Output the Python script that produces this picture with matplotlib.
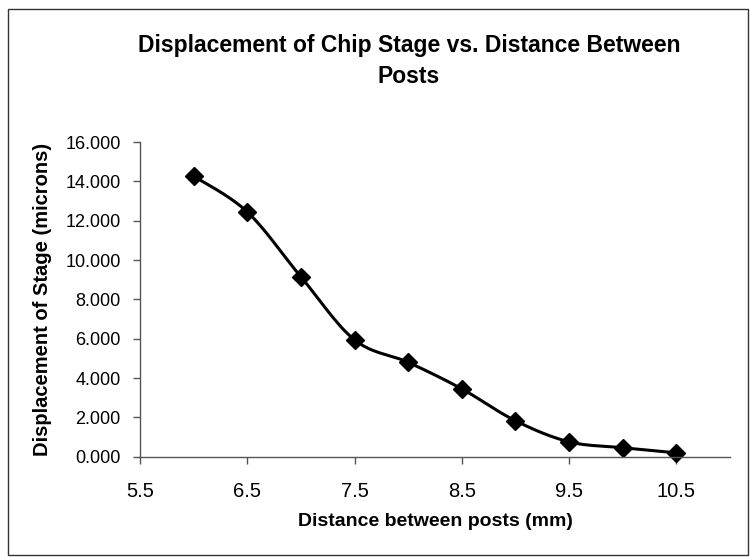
import numpy as np
import matplotlib
matplotlib.use("Agg")
import matplotlib.pyplot as plt
from matplotlib.patches import Rectangle

plt.rcParams.update({
    'font.family': ['Liberation Sans', 'DejaVu Sans'],
    'font.size': 12,
})

# distance between posts (mm) and stage displacement (microns)
distance = [6.0, 6.5, 7.0, 7.5, 8.0, 8.5, 9.0, 9.5, 10.0, 10.5]
displacement = [14.26, 12.44, 9.14, 5.94, 4.80, 3.45, 1.83, 0.76, 0.46, 0.20]

x_ticks = [5.5, 6.5, 7.5, 8.5, 9.5, 10.5]
y_ticks = [0, 2, 4, 6, 8, 10, 12, 14, 16]


def smooth_path(ax, xs, ys, n=30):
    # Excel-like smoothed line: Catmull-Rom bezier in display space
    pts = ax.transData.transform(np.column_stack([xs, ys]))
    out = [pts[0]]
    for i in range(len(pts) - 1):
        p0 = pts[i - 1] if i > 0 else pts[i]
        p1, p2 = pts[i], pts[i + 1]
        p3 = pts[i + 2] if i + 2 < len(pts) else pts[i + 1]
        c1 = p1 + (p2 - p0) / 6.0
        c2 = p2 - (p3 - p1) / 6.0
        t = np.linspace(0, 1, n)[1:, None]
        seg = ((1 - t) ** 3) * p1 + 3 * ((1 - t) ** 2) * t * c1 \
            + 3 * (1 - t) * t ** 2 * c2 + t ** 3 * p2
        out.extend(seg)
    out = np.array(out)
    return ax.transData.inverted().transform(out)


fig = plt.figure(figsize=(7.5, 5.57), dpi=100)
ax = fig.add_axes([0.187, 0.180, 0.786, 0.565])

ax.set_xlim(5.5, 11.0)
ax.set_ylim(0, 16)
ax.set_xticks(x_ticks)
ax.set_yticks(y_ticks)
ax.set_xticklabels([f'{v:.1f}' for v in x_ticks], fontsize=14.5)
ax.set_yticklabels([f'{v:.3f}' for v in y_ticks], fontsize=13)

for side in ('top', 'right'):
    ax.spines[side].set_visible(False)
for side in ('left', 'bottom'):
    ax.spines[side].set_color('#555555')
    ax.spines[side].set_linewidth(1.0)
ax.tick_params(direction='out', length=5, width=1, color='#555555')
ax.tick_params(axis='x', pad=13)
ax.tick_params(axis='y', pad=9)

curve = smooth_path(ax, distance, displacement)
ax.plot(curve[:, 0], curve[:, 1], color='black', lw=2.2, clip_on=False)
ax.plot(distance, displacement, 'D', color='black', ms=9, clip_on=False)

ax.set_xlabel('Distance between posts (mm)', fontsize=14, fontweight='bold', labelpad=9)
ax.set_ylabel('Displacement of Stage (microns)', fontsize=14.5, fontweight='bold', labelpad=10)

fig.text(0.545, 0.89, 'Displacement of Chip Stage vs. Distance Between\nPosts',
         ha='center', va='center', fontsize=16.5, fontweight='bold', linespacing=1.45)

fig.patches.append(Rectangle((0.011, 0.004), 0.986, 0.98, transform=fig.transFigure,
                             fill=False, edgecolor='#333333', lw=1.0))

fig.savefig('out.png', dpi=100)
